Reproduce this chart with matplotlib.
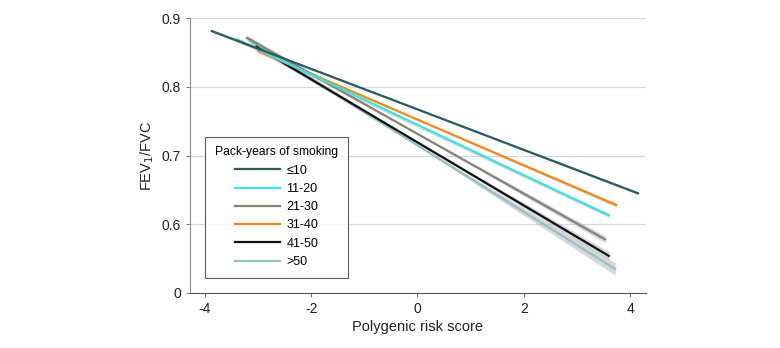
import numpy as np
import matplotlib.pyplot as plt

plt.rcParams['font.family'] = ['Liberation Sans', 'DejaVu Sans']

groups = ['≤10', '11-20', '21-30', '31-40', '41-50', '>50']
colors = ['#2b5b5c', '#3ee0e0', '#85837a', '#f08a1c', '#111111', '#8ec5c2']

# regression line endpoints (polygenic risk score, FEV1/FVC)
x_start = [-3.87, -3.40, -3.21, -3.00, -3.03, -3.15]
x_end = [4.15, 3.60, 3.53, 3.74, 3.60, 3.72]
y_start = [0.881, 0.869, 0.871, 0.852, 0.858, 0.867]
y_mid = [0.767, 0.742, 0.732, 0.752, 0.720, 0.715]   # value at score 0
y_end = [0.645, 0.613, 0.578, 0.628, 0.554, 0.535]

# half width of the confidence band at start / middle / end
ci_start = [0.002, 0.003, 0.004, 0.003, 0.004, 0.005]
ci_mid = [0.001, 0.001, 0.001, 0.001, 0.001, 0.001]
ci_end = [0.002, 0.003, 0.005, 0.003, 0.006, 0.009]

fig = plt.figure(figsize=(7.8, 3.48), dpi=100)
ax = fig.add_axes([190 / 780, 1 - 293 / 348, (646 - 190) / 780, (293 - 18) / 348])

draw_order = [5, 4, 2, 1, 3, 0]
for i in draw_order:
    xs = [x_start[i], 0, x_end[i]]
    ys = np.array([y_start[i], y_mid[i], y_end[i]])
    cs = np.array([ci_start[i], ci_mid[i], ci_end[i]])
    ax.fill_between(xs, ys - cs, ys + cs, color='#bdbdbd', alpha=0.6, lw=0, zorder=2)
    ax.plot([x_start[i], x_end[i]], [y_start[i], y_end[i]], color=colors[i], lw=1.6,
            label=groups[i], zorder=3 + (6 - i))

ax.set_xlim(-4.28, 4.3)
ax.set_ylim(0.5, 0.9)
ax.set_xticks([-4, -2, 0, 2, 4])
ax.set_xticklabels(['-4', '-2', '0', '2', '4'])
ax.set_yticks([0.5, 0.6, 0.7, 0.8, 0.9])
ax.set_yticklabels(['0', '0.6', '0.7', '0.8', '0.9'])
for g in [0.6, 0.7, 0.8, 0.9]:
    ax.axhline(g, color='#d8d8d8', lw=0.9, zorder=1)

for s in ['top', 'right']:
    ax.spines[s].set_visible(False)
ax.spines['left'].set_color('#8c8c8c')
ax.spines['bottom'].set_color('#555555')
ax.tick_params(axis='both', labelsize=10, length=3, color='#777777', labelcolor='#222222')

ax.set_xlabel('Polygenic risk score', fontsize=10.5, color='#222222', labelpad=3)
ax.set_ylabel('FEV$_1$/FVC', fontsize=10.5, color='#222222', labelpad=4)

handles, labels = ax.get_legend_handles_labels()
order = [labels.index(g) for g in groups]
leg = ax.legend([handles[k] for k in order], [labels[k] for k in order],
                title='Pack-years of smoking', loc='lower left',
                bbox_to_anchor=((205 - 190) / 456, (293 - 278) / 275),
                fontsize=9, title_fontsize=8.7, frameon=True, fancybox=False,
                edgecolor='#333333', handlelength=3.6, labelspacing=0.5,
                borderpad=0.8, borderaxespad=0, handletextpad=0.5)
leg.get_frame().set_linewidth(0.8)

fig.savefig('out.png', dpi=100)
